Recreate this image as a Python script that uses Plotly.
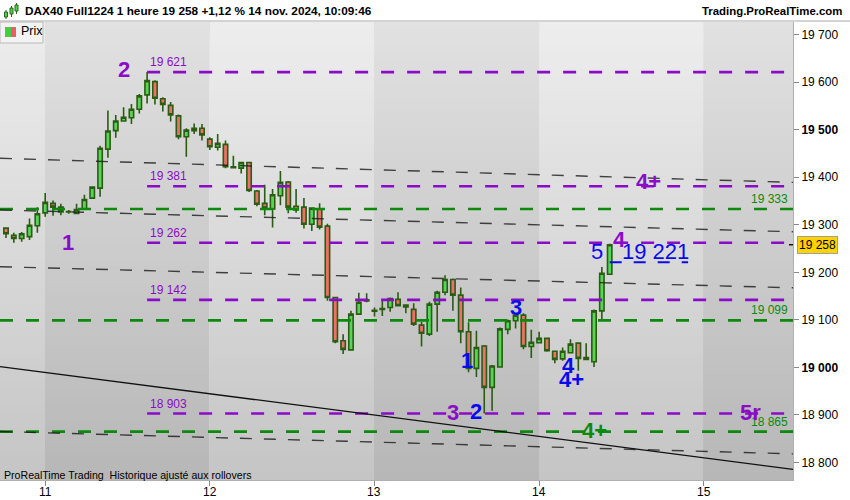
import plotly.graph_objects as go

# ---------------- data ----------------
idx = list(range(78))
opens = [19293,19278,19271,19275,19298,19325,19345,19337,19327,19324,19333,19356,19377,19459,19498,19518,19525,19543,19573,19601,
         19565,19551,19529,19485,19498,19503,19480,19463,19469,19420,19419,19431,19371,19345,19333,19361,19390,19339,19337,19301,
         19333,19297,19147,19056,19037,19112,19140,19118,19122,19126,19143,19131,19122,19089,19070,19133,19158,19185,19152,19075,
         18998,19045,18958,19001,19080,19098,19110,19044,19052,19061,19034,19018,19031,19051,19021,19012,19119,19196]
highs = [19295,19283,19285,19313,19337,19367,19351,19344,19331,19344,19363,19381,19466,19540,19531,19547,19554,19575,19621,19604,
         19568,19558,19532,19503,19513,19512,19484,19491,19477,19445,19432,19432,19373,19384,19375,19413,19392,19375,19356,19337,
         19345,19302,19148,19070,19119,19157,19156,19126,19140,19147,19158,19133,19135,19096,19138,19161,19194,19187,19168,19095,
         19077,19047,19005,19084,19101,19112,19114,19079,19075,19062,19035,19042,19059,19052,19051,19122,19211,19260]
lows = [19272,19262,19264,19268,19283,19317,19319,19320,19323,19322,19332,19355,19359,19441,19483,19517,19512,19534,19555,19553,
        19538,19517,19480,19443,19491,19477,19457,19456,19419,19419,19408,19369,19339,19320,19294,19341,19324,19325,19292,19287,
        19290,19140,19051,19028,19035,19112,19137,19107,19108,19117,19128,19114,19087,19044,19066,19075,19152,19119,19051,18990,
        18980,18903,18909,19000,19070,19082,19038,19020,19051,19033,19009,19014,19030,18993,19015,19001,19100,19196]
closes = [19281,19271,19281,19299,19323,19347,19337,19327,19328,19332,19353,19379,19461,19497,19518,19526,19543,19571,19603,19566,
          19553,19531,19485,19499,19503,19489,19464,19471,19422,19422,19431,19372,19343,19335,19363,19389,19337,19331,19301,19335,
          19295,19147,19054,19038,19112,19137,19142,19120,19124,19145,19130,19127,19091,19072,19133,19158,19185,19152,19075,18998,
          19042,18958,19003,19081,19098,19110,19044,19053,19061,19035,19017,19034,19049,19019,19017,19119,19198,19258]

day_ticks = [5, 26, 47, 68, 89]
day_labels = ["11", "12", "13", "14", "15"]
y_ticks = [18800, 18900, 19000, 19100, 19200, 19300, 19400, 19500, 19600, 19700]
y_labels = ["18 800", "18 900", "<b>19 000</b>", "19 100", "19 200", "19 300", "19 400", "<b>19 500</b>", "19 600", "19 700"]

purple_levels = [19621, 19381, 19262, 19142, 18903]
purple_texts = ["19 621", "19 381", "19 262", "19 142", "18 903"]
purple_start = 18
green_levels = [19333, 19099, 18865]
green_texts = ["19 333", "19 099", "18 865"]
blue_level = 19221
blue_span = [77, 87]
last_price = 19258

# trend lines: (x0, y0, x1, y1) in index/price units
dashed_trends = [(-0.765, 19439.7, 100.38, 19389.0),
                 (-0.765, 19331.0, 100.38, 19285.2),
                 (-0.765, 19211.8, 100.38, 19167.4),
                 (-0.765, 18865.3, 100.38, 18818.2)]
solid_trend = (-0.765, 19001.9, 100.38, 18785.6)

# wave labels (x index, price, text, colour key, bold)
wave_labels = [(7.9, 19262, "1", "p", True), (15.05, 19627, "2", "p", True), (57.0, 18906, "3", "p", True),
               (81.9, 19390, "4+", "p", True), (78.2, 19268, "4", "p", True), (95.0, 18906, "5r", "p", True),
               (58.8, 19015, "1", "b", True), (59.95, 18908, "2", "b", True), (65.05, 19125, "3", "b", True),
               (71.8, 19005, "4", "b", True), (72.07, 18974, "4+", "b", True), (75.4, 19243, "5", "b", False),
               (82.9, 19243, "19 221", "b", False), (75.0, 18868, "4+", "g", True)]

XMIN, XMAX = -0.765, 100.38
YMIN, YMAX = 18763.3, 19726.3

PURPLE = "#8a0cc6"
GREEN = "#0b8a0b"
BLUE = "#0a0af0"
COLS = {"p": PURPLE, "b": BLUE, "g": GREEN}
FONT = "Liberation Sans, Arial, sans-serif"


def lerp_col(c0, c1, t):
    a = [int(c0[i:i + 2], 16) for i in (1, 3, 5)]
    b = [int(c1[i:i + 2], 16) for i in (1, 3, 5)]
    return "rgb(%d,%d,%d)" % tuple(round(a[i] + (b[i] - a[i]) * t) for i in range(3))


shapes = []
# background day bands with vertical gradient (stacked strips, drawn below traces)
band_edges = [XMIN] + day_ticks + [XMAX]
NSTRIP = 60
for i in range(len(band_edges) - 1):
    light = (i % 2 == 0)
    top = "#ededed" if light else "#e1e1e1"
    bot = "#c5c5c5" if light else "#b7b7b7"
    x0, x1 = band_edges[i], band_edges[i + 1]
    for s in range(NSTRIP):
        t = s / (NSTRIP - 1)
        ytop = YMAX - (YMAX - YMIN) * s / NSTRIP
        shapes.append(dict(type="rect", xref="x", yref="y", x0=x0, x1=x1, y0=YMIN, y1=ytop, layer="below",
                           fillcolor=lerp_col(top, bot, t), line=dict(width=0)))

fig = go.Figure()
fig.add_trace(go.Candlestick(
    x=idx, open=opens, high=highs, low=lows, close=closes,
    increasing=dict(fillcolor="#55d655", line=dict(color="#2a5c14", width=1.6)),
    decreasing=dict(fillcolor="#ec7168", line=dict(color="#2a5c14", width=1.6)),
    whiskerwidth=0, hoverinfo="skip", showlegend=False))

for lv in purple_levels:
    shapes.append(dict(type="line", xref="x", yref="y", x0=purple_start, x1=XMAX, y0=lv, y1=lv,
                       line=dict(color=PURPLE, width=2.6, dash="13px,13px")))
for lv in green_levels:
    shapes.append(dict(type="line", xref="x", yref="y", x0=XMIN, x1=XMAX, y0=lv, y1=lv,
                       line=dict(color=GREEN, width=2.6, dash="13px,13px")))
shapes.append(dict(type="line", xref="x", yref="y", x0=blue_span[0], x1=blue_span[1], y0=blue_level, y1=blue_level,
                   line=dict(color=BLUE, width=2, dash="12px,12px")))
for (x0, y0, x1, y1) in dashed_trends:
    shapes.append(dict(type="line", xref="x", yref="y", x0=x0, y0=y0, x1=x1, y1=y1,
                       line=dict(color="rgba(25,25,25,0.8)", width=1.4, dash="12px,12px")))
x0, y0, x1, y1 = solid_trend
shapes.append(dict(type="line", xref="x", yref="y", x0=x0, y0=y0, x1=x1, y1=y1,
                   line=dict(color="#111111", width=1.3)))


def PX(px):
    return px / 793.0


def PY(py):
    return (480.0 - py) / 458.0


# header separator
shapes.append(dict(type="line", xref="paper", yref="paper", x0=PX(0), x1=PX(850), y0=PY(21), y1=PY(21),
                   line=dict(color="#a8a8a8", width=1)))
# legend box "Prix"
shapes.append(dict(type="rect", xref="paper", yref="paper", x0=PX(0), x1=PX(43), y0=PY(43), y1=PY(22),
                   fillcolor="#f3f3f3", line=dict(color="#b8b8b8", width=1)))
shapes.append(dict(type="rect", xref="paper", yref="paper", x0=PX(5), x1=PX(11), y0=PY(37), y1=PY(27),
                   fillcolor="#44cc44", line=dict(width=0)))
shapes.append(dict(type="rect", xref="paper", yref="paper", x0=PX(11), x1=PX(16), y0=PY(37), y1=PY(27),
                   fillcolor="#e85f5f", line=dict(width=0)))
# header icon
for (cx, yt, yb, bt, bb) in [(6, 10, 19, 12, 17), (11.5, 6, 17, 8, 14), (16.5, 3, 14, 5, 11)]:
    shapes.append(dict(type="line", xref="paper", yref="paper", x0=PX(cx), x1=PX(cx), y0=PY(yb), y1=PY(yt),
                       line=dict(color="#2a6a14", width=1)))
    shapes.append(dict(type="rect", xref="paper", yref="paper", x0=PX(cx - 1.5), x1=PX(cx + 1.5), y0=PY(bb), y1=PY(bt),
                       fillcolor="#4cd44c", line=dict(color="#2a6a14", width=1)))
# small axis markers
for lv in green_levels:
    shapes.append(dict(type="line", xref="paper", yref="y", x0=PX(790), x1=PX(793), y0=lv, y1=lv,
                       line=dict(color=GREEN, width=2)))
shapes.append(dict(type="line", xref="paper", yref="y", x0=PX(789), x1=PX(793), y0=last_price, y1=last_price,
                   line=dict(color="#111", width=1.5)))

annotations = []
for lv, t in zip(purple_levels, purple_texts):
    annotations.append(dict(x=purple_start, y=lv, xref="x", yref="y", text=t, showarrow=False,
                            xanchor="left", yanchor="bottom", xshift=1, yshift=1,
                            font=dict(family=FONT, size=12, color=PURPLE)))
for lv, t in zip(green_levels, green_texts):
    annotations.append(dict(x=1, y=lv, xref="paper", yref="y", text=t, showarrow=False,
                            xanchor="right", yanchor="bottom", xshift=-3, yshift=1,
                            font=dict(family=FONT, size=12, color=GREEN)))
for (x, y, t, c, b) in wave_labels:
    annotations.append(dict(x=x, y=y, xref="x", yref="y", text=("<b>%s</b>" % t) if b else t, showarrow=False,
                            xanchor="center", yanchor="middle",
                            font=dict(family=FONT, size=22, color=COLS[c])))
# x-axis day labels
for tv, tl in zip(day_ticks, day_labels):
    annotations.append(dict(x=tv, y=PY(492), xref="x", yref="paper", text=tl, showarrow=False,
                            xanchor="center", yanchor="middle", font=dict(family=FONT, size=12, color="#000")))
# price tag
annotations.append(dict(x=1, y=last_price, xref="paper", yref="y", text="19 258", showarrow=False,
                        xanchor="left", yanchor="middle", xshift=4, bgcolor="#ffd200", bordercolor="#a0a0a0",
                        borderwidth=1, borderpad=1, font=dict(family=FONT, size=12, color="#000")))
# header texts
annotations.append(dict(x=PX(23), y=PY(11), xref="paper", yref="paper", showarrow=False, xanchor="left",
                        yanchor="middle", text="<b>DAX40 Full1224 1 heure 19 258 +1,12 % 14 nov. 2024, 10:09:46</b>",
                        font=dict(family=FONT, size=11.8, color="#000")))
annotations.append(dict(x=PX(844), y=PY(11), xref="paper", yref="paper", showarrow=False, xanchor="right",
                        yanchor="middle", text="<b>Trading.ProRealTime.com</b>",
                        font=dict(family=FONT, size=11.4, color="#000")))
annotations.append(dict(x=PX(19), y=PY(31.5), xref="paper", yref="paper", showarrow=False, xanchor="left",
                        yanchor="middle", text="Prix", font=dict(family=FONT, size=12.5, color="#000")))
annotations.append(dict(x=PX(2), y=PY(475), xref="paper", yref="paper", showarrow=False, xanchor="left",
                        yanchor="middle", text="ProRealTime Trading  Historique ajusté aux rollovers",
                        font=dict(family=FONT, size=10.6, color="#000")))

fig.update_layout(
    width=850, height=500, autosize=False,
    margin=dict(l=0, r=57, t=22, b=20, pad=0),
    paper_bgcolor="#ffffff", plot_bgcolor="#d0d0d0",
    showlegend=False, hovermode=False, boxgap=0.2,
    shapes=shapes, annotations=annotations,
    font=dict(family=FONT, size=12, color="#000"),
    xaxis=dict(range=[XMIN, XMAX], tickvals=day_ticks, ticktext=day_labels, ticks="outside", ticklen=5,
               tickcolor="#888", showticklabels=False, showgrid=False, zeroline=False, showline=True,
               linecolor="#b0b0b0", rangeslider=dict(visible=False), fixedrange=True, automargin=False),
    yaxis=dict(range=[YMIN, YMAX], side="right", tickvals=y_ticks, ticktext=y_labels, ticks="outside", ticklen=5,
               tickcolor="#888", showgrid=False, zeroline=False, showline=True, linecolor="#b0b0b0",
               fixedrange=True, automargin=False, tickfont=dict(family=FONT, size=12, color="#000")),
)

fig.write_html("out.html", config={"displayModeBar": False},
               post_script="document.body.style.margin='0px';document.body.style.padding='0px';")
